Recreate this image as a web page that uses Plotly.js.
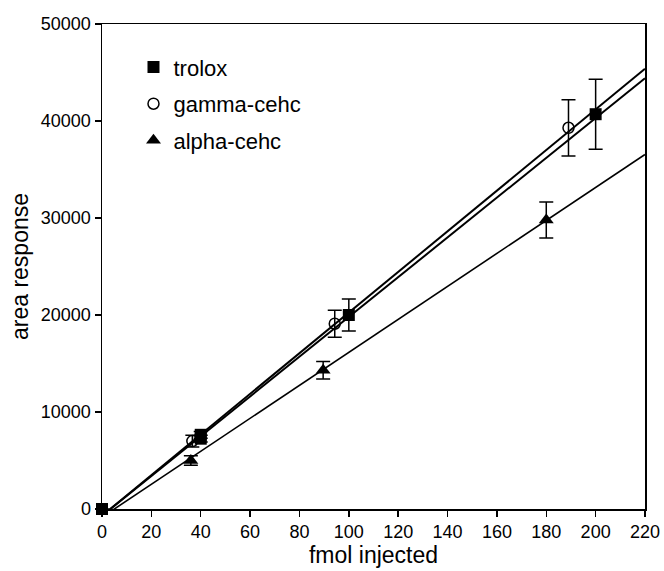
<!DOCTYPE html>
<html>
<head>
<meta charset="utf-8">
<script src="https://cdn.plot.ly/plotly-3.0.1.min.js"></script>
<style>html,body{margin:0;padding:0;background:#fff;}#chart{width:664px;height:571px;}</style>
</head>
<body>
<div id="chart"></div>
<script>
// Data
const seriesNames = ["trolox", "gamma-cehc", "alpha-cehc"];
const troloxX = [0, 40, 40, 100, 200];
const troloxY = [0, 7650, 7250, 20000, 40700];
const troloxErr = [0, 350, 350, 1650, 3600];
const gammaX = [36.6, 94.3, 189];
const gammaY = [7000, 19100, 39300];
const gammaErr = [600, 1400, 2900];
const alphaX = [36, 89.6, 180];
const alphaY = [5000, 14300, 29800];
const alphaErr = [500, 900, 1850];
// Fitted lines (slope, intercept)
const troloxFit = [205, -700];
const gammaFit = [209.5, -700];
const alphaFit = [170, -850];
const fitRange = [0, 220];

const xTicks = [0, 20, 40, 60, 80, 100, 120, 140, 160, 180, 200, 220];
const yTicks = [0, 10000, 20000, 30000, 40000, 50000];
const yTickText = ["0", "10000", "20000", "30000", "40000", "50000"];

function fitLine(fit, w) {
  return {
    x: fitRange,
    y: fitRange.map(v => fit[0] * v + fit[1]),
    mode: 'lines', type: 'scatter', showlegend: false, hoverinfo: 'skip',
    line: {color: '#000', width: w}
  };
}
function errBar(arr) {
  return {type: 'data', array: arr, visible: true, color: '#000', thickness: 1.5, width: 7};
}

const traces = [
  fitLine(troloxFit, 2), fitLine(gammaFit, 2), fitLine(alphaFit, 1.6),
  {x: troloxX, y: troloxY, name: seriesNames[0], legendgroup: 'a', mode: 'markers', type: 'scatter', cliponaxis: false,
   marker: {symbol: 'square', size: 12, color: '#000'}, error_y: errBar(troloxErr)},
  {x: gammaX, y: gammaY, name: seriesNames[1], legendgroup: 'b', mode: 'markers', type: 'scatter', cliponaxis: false,
   marker: {symbol: 'circle-open', size: 11, color: '#000', line: {width: 1.5, color: '#000'}}, error_y: errBar(gammaErr)},
  {x: alphaX, y: alphaY, name: seriesNames[2], legendgroup: 'c', mode: 'markers', type: 'scatter', cliponaxis: false,
   marker: {symbol: 'triangle-up', size: 13, color: '#000'}, error_y: errBar(alphaErr)}
];

const layout = {
  width: 664, height: 571,
  margin: {l: 102, r: 19, t: 24, b: 62},
  paper_bgcolor: '#fff', plot_bgcolor: '#fff',
  font: {family: 'Liberation Sans, Arial, sans-serif', color: '#000', size: 18},
  showlegend: true,
  legend: {x: 0.058, y: 0.954, xanchor: 'left', yanchor: 'top', bgcolor: 'rgba(0,0,0,0)',
           font: {size: 22}, traceorder: 'grouped', tracegroupgap: 5},
  xaxis: {range: [0, 220], tickvals: xTicks, ticks: 'outside', ticklen: 6, tickwidth: 1.5, tickcolor: '#000',
          showline: true, linecolor: '#000', linewidth: 1.5, mirror: true, showgrid: false, zeroline: false,
          tickfont: {size: 18}, title: {text: 'fmol injected', font: {size: 23}, standoff: 2}},
  yaxis: {range: [0, 50000], tickvals: yTicks, ticktext: yTickText, ticks: 'outside', ticklen: 6, tickwidth: 1.5, tickcolor: '#000',
          showline: true, linecolor: '#000', linewidth: 1.5, mirror: true, showgrid: false, zeroline: false,
          tickfont: {size: 18}, title: {text: 'area response', font: {size: 23}, standoff: 6}}
};

Plotly.newPlot('chart', traces, layout, {displayModeBar: false, staticPlot: true});
</script>
</body>
</html>
